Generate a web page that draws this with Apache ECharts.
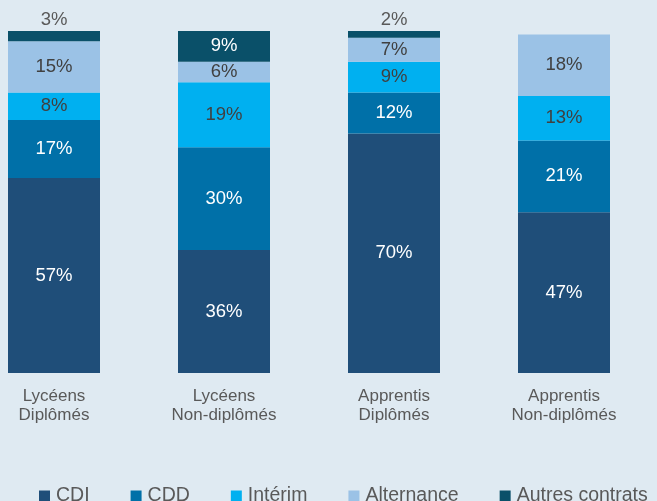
<!DOCTYPE html>
<html>
<head>
<meta charset="utf-8">
<script src="https://cdn.jsdelivr.net/npm/echarts@6/dist/echarts.min.js"></script>
<style>
  html, body { margin: 0; padding: 0; background: #dfeaf2; }
  #chart { width: 657px; height: 501px; }
</style>
</head>
<body>
<div id="chart"></div>
<script>
// categories and series values (% of each group)
const categories = ['Lycéens\nDiplômés', 'Lycéens\nNon-diplômés', 'Apprentis\nDiplômés', 'Apprentis\nNon-diplômés'];
const cdi = [57, 36, 70, 47];
const cdd = [17, 30, 12, 21];
const interim = [8, 19, 9, 13];
const alternance = [15, 6, 7, 18];
const autres = [3, 9, 2, 0];

const font = 'Liberation Sans, Arial, sans-serif';

// small segments get their label above the bar
const makeSeries = (name, data, color, labelColor) => ({
  name: name,
  type: 'bar',
  stack: 'total',
  barWidth: 92,
  data: data.map(v => {
    if (v === 0) return { value: v, label: { show: false } };
    if (v < 5) return { value: v, label: { position: 'top', color: '#595959', distance: 2 } };
    return v;
  }),
  itemStyle: { color: color },
  label: {
    show: true,
    position: 'inside',
    formatter: '{c}%',
    color: labelColor,
    fontSize: 18.5,
    fontFamily: font
  }
});

const chart = echarts.init(document.getElementById('chart'), null, { renderer: 'canvas' });
chart.setOption({
  backgroundColor: '#dfeaf2',
  animation: false,
  grid: { left: -31, right: 8, top: 31, bottom: 128, containLabel: false, outerBoundsMode: 'none' },
  xAxis: {
    type: 'category',
    data: categories,
    axisLine: { show: false },
    axisTick: { show: false },
    axisLabel: {
      color: '#595959',
      fontSize: 17,
      fontFamily: font,
      lineHeight: 19,
      margin: 14
    }
  },
  yAxis: {
    type: 'value',
    min: 0,
    max: 100,
    show: false
  },
  legend: {
    left: 34,
    bottom: -10,
    width: 720,
    icon: 'rect',
    itemWidth: 11,
    itemHeight: 11,
    itemGap: 41,
    textStyle: { color: '#595959', fontSize: 19.5, fontFamily: font, padding: [0, 0, 0, 1] }
  },
  series: [
    makeSeries('CDI', cdi, '#1f4e79', '#ffffff'),
    makeSeries('CDD', cdd, '#0070a8', '#ffffff'),
    makeSeries('Intérim', interim, '#00b0f0', '#404040'),
    makeSeries('Alternance', alternance, '#9bc2e6', '#404040'),
    makeSeries('Autres contrats', autres, '#0a5069', '#ffffff')
  ]
});
</script>
</body>
</html>
